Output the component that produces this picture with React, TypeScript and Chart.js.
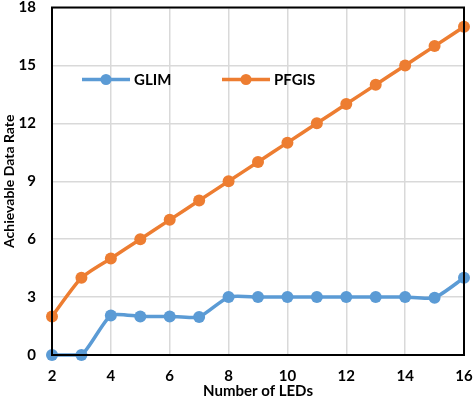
import React, { useEffect, useRef } from "react";
import { Chart, registerables } from "chart.js";

Chart.register(...registerables);

const leds = [2, 3, 4, 5, 6, 7, 8, 9, 10, 11, 12, 13, 14, 15, 16];
const glim = [0, 0, 2.05, 2, 2, 1.97, 3, 3, 3, 3, 3, 3, 3, 2.97, 4];
const pfgis = [2, 4, 5, 6, 7, 8, 9, 10, 11, 12, 13, 14, 15, 16, 17];
const seriesNames = ["GLIM", "PFGIS"];
const seriesColors = ["#5B9BD5", "#ED7D31"];
const yTicks = [0, 3, 6, 9, 12, 15, 18];
const xTitle = "Number of LEDs";
const yTitle = "Achievable Data Rate";

const FONT = "Lato, 'Open Sans', sans-serif";

const boxPlugin = {
  id: "boxPlugin",
  afterDraw(chart: any) {
    const { ctx, chartArea } = chart;
    ctx.save();
    ctx.strokeStyle = "#000";
    ctx.lineWidth = 2;
    ctx.strokeRect(chartArea.left, chartArea.top, chartArea.right - chartArea.left, chartArea.bottom - chartArea.top);
    ctx.restore();
  },
};

const legendPlugin = {
  id: "insideLegend",
  afterDatasetsDraw(chart: any) {
    const { ctx, chartArea } = chart;
    const y = chartArea.top + 72;
    const starts = [chartArea.left + 30, chartArea.left + 170];
    ctx.save();
    chart.data.datasets.forEach((ds: any, i: number) => {
      const x0 = starts[i];
      ctx.strokeStyle = ds.borderColor;
      ctx.lineWidth = 3.5;
      ctx.beginPath();
      ctx.moveTo(x0, y);
      ctx.lineTo(x0 + 48, y);
      ctx.stroke();
      ctx.fillStyle = ds.backgroundColor;
      ctx.beginPath();
      ctx.arc(x0 + 24, y, 5.5, 0, Math.PI * 2);
      ctx.fill();
      ctx.fillStyle = "#000";
      ctx.font = `bold 15px ${FONT}`;
      ctx.textBaseline = "middle";
      ctx.textAlign = "left";
      ctx.fillText(ds.label, x0 + 52, y + 1);
    });
    ctx.restore();
  },
};

export default function App() {
  const ref = useRef<HTMLCanvasElement>(null);
  useEffect(() => {
    document.body.style.margin = "0";
    const mk = (data: number[], i: number) => ({
      label: seriesNames[i],
      data: leds.map((x, k) => ({ x, y: data[k] })),
      borderColor: seriesColors[i],
      backgroundColor: seriesColors[i],
      borderWidth: 3.5,
      pointRadius: 6,
      pointHoverRadius: 6,
      pointBorderWidth: 0,
      tension: 0.2,
      clip: false as any,
    });
    const chart = new Chart(ref.current!, {
      type: "line",
      data: { datasets: [mk(glim, 0), mk(pfgis, 1)] },
      options: {
        animation: false,
        responsive: false,
        layout: { padding: { left: 0, top: 0, right: 10, bottom: 0 } },
        plugins: { legend: { display: false }, tooltip: { enabled: false } },
        scales: {
          x: {
            type: "linear",
            min: 2,
            max: 16,
            grid: { color: "#d9d9d9", lineWidth: 1.5, drawTicks: true, tickLength: 14, tickColor: "rgba(0,0,0,0)" },
            border: { display: false },
            ticks: {
              stepSize: 2,
              padding: 0,
              color: "#000",
              font: { family: FONT, size: 15, weight: "bold", lineHeight: 1.0 },
            },
            title: {
              display: true,
              text: xTitle,
              color: "#000",
              padding: { top: 0, bottom: 0 },
              font: { family: FONT, size: 15, weight: "bold", lineHeight: 1.0 },
            },
            afterFit: (s: any) => {
              s.height = 44;
            },
          },
          y: {
            min: 0,
            max: 18,
            grid: { color: "#d9d9d9", lineWidth: 1.5, drawTicks: true, tickLength: 16, tickColor: "rgba(0,0,0,0)" },
            border: { display: false },
            afterBuildTicks: (s: any) => {
              s.ticks = yTicks.map((v) => ({ value: v }));
            },
            ticks: {
              padding: 0,
              color: "#000",
              font: { family: FONT, size: 15, weight: "bold", lineHeight: 1.0 },
            },
            title: {
              display: true,
              text: yTitle,
              color: "#000",
              padding: { top: 1, bottom: 0 },
              font: { family: FONT, size: 14, weight: "bold", lineHeight: 1.2 },
            },
            afterFit: (s: any) => {
              s.width = 52;
            },
          },
        },
      },
      plugins: [boxPlugin, legendPlugin],
    });
    return () => chart.destroy();
  }, []);
  return <canvas ref={ref} width={474} height={399} style={{ display: "block" }} />;
}
